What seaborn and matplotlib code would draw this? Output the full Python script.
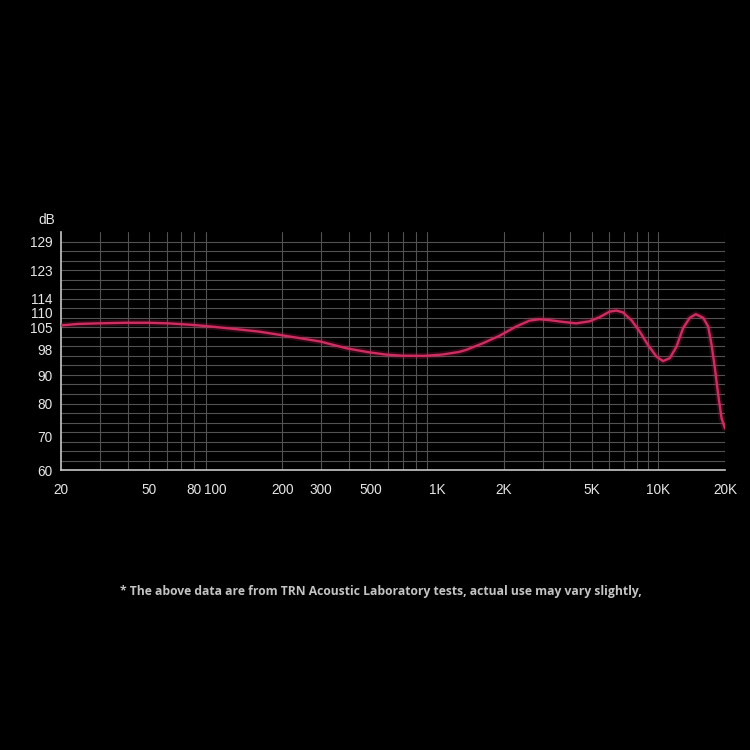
import numpy as np
import pandas as pd
import matplotlib
matplotlib.use("Agg")
import matplotlib.pyplot as plt
import seaborn as sns

# ---- data ----
freq_hz = [20, 23.9, 29.4, 38.9, 49.6, 61.1, 77.9, 95.9, 122.5, 156.2, 196, 297,
           392, 492, 586, 697, 873, 1057, 1258, 1350, 1605, 1910, 2274, 2612,
           2900, 3218, 3698, 4252, 4886, 5423, 6020, 6455, 6917, 7550, 8232,
           8974, 9796, 10496, 11258, 12070, 12930, 13868, 14760, 15930, 16786,
           17392, 18000, 18632, 19302, 20000]
spl_db = [105.7, 106.2, 106.4, 106.6, 106.6, 106.4, 105.9, 105.3, 104.5, 103.7,
          102.6, 100.5, 98.3, 97.1, 96.4, 96.05, 96.0, 96.4, 97.2, 97.8, 99.9,
          102.3, 105.3, 107.3, 107.8, 107.5, 106.9, 106.4, 107.1, 108.5, 110.3,
          110.6, 110.1, 107.5, 103.7, 99.4, 95.8, 94.4, 95.3, 98.85, 104.8,
          108.3, 109.5, 108.3, 105.3, 99.4, 92.2, 83.05, 75.5, 72.5]

y_tick_values = [129, 123, 114, 110, 105, 98, 90, 80, 70, 60]
x_tick_values = [20, 50, 80, 100, 200, 300, 500, 1000, 2000, 5000, 10000, 20000]
x_tick_labels = ["20", "50", "80", "100", "200", "300", "500", "1K", "2K", "5K", "10K", "20K"]
footer = "* The above data are from TRN Acoustic Laboratory tests, actual use may vary slightly,"

# non-linear dB axis of the original: dB -> grid-row position
knot_db = np.array([60, 70, 80, 90, 98, 105, 110, 114, 123, 129, 135])
knot_pos = np.array([0, 3.5, 7, 9.95, 12.7, 15, 16.55, 18.1, 21, 24, 27])

def fwd(v):
    return np.interp(v, knot_db, knot_pos)

def inv(p):
    return np.interp(p, knot_pos, knot_db)

df = pd.DataFrame({"freq": freq_hz, "db": spl_db})

sns.set_style("dark")
plt.rcParams["font.family"] = ["Liberation Sans", "DejaVu Sans"]
fig = plt.figure(figsize=(7.5, 7.5), dpi=100, facecolor="black")
ax = fig.add_axes([0.0813, 0.3733, 0.8854, 0.3174])
ax.set_facecolor("black")

ax.set_xscale("log")
ax.set_yscale("function", functions=(fwd, inv))
ax.set_xlim(20, 20000)
ax.set_ylim(60, inv(25.05))

# grid
grid_color = "#525252"
xgrid = [v * m for m in (10, 100, 1000) for v in range(2, 10)] + [10000, 20000]
for xv in xgrid:
    if 20 < xv <= 20000:
        ax.axvline(xv, color=grid_color, lw=0.8, zorder=1)
for p in range(1, 25):
    ax.axhline(inv(p), color=grid_color, lw=0.8, zorder=1)

# glow + curve
sns.lineplot(data=df, x="freq", y="db", ax=ax, color="#c21f55", lw=4.5, alpha=0.25, zorder=3)
sns.lineplot(data=df, x="freq", y="db", ax=ax, color="#cf2c60", lw=1.7, zorder=4)

ax.set_yticks(y_tick_values)
ax.set_yticklabels([str(v) for v in y_tick_values])
ax.yaxis.set_minor_locator(matplotlib.ticker.NullLocator())
ax.set_xticks(x_tick_values)
ax.set_xticklabels(x_tick_labels)
ax.xaxis.set_minor_locator(matplotlib.ticker.NullLocator())
ax.tick_params(axis="both", length=0, colors="#e6e6e6", labelsize=9.8)
ax.tick_params(axis="x", pad=9)
ax.tick_params(axis="y", pad=6)
ax.grid(False)
ax.set_xlabel("")
ax.set_ylabel("")

for s in ("top", "right"):
    ax.spines[s].set_visible(False)
ax.spines["left"].set_color("#c8c8c8")
ax.spines["bottom"].set_color("#c8c8c8")
ax.spines["left"].set_linewidth(1.2)
ax.spines["bottom"].set_linewidth(1.2)

fig.text(47 / 750, 1 - 220 / 750, "dB", color="#e6e6e6", fontsize=9.8,
         ha="center", va="center")
fig.text(381 / 750, 1 - 592 / 750, footer, color="#c4c4c4", fontsize=8.75,
         fontweight="bold", family=["Open Sans", "DejaVu Sans"], ha="center", va="center")

fig.savefig("out.png", dpi=100, facecolor="black")
